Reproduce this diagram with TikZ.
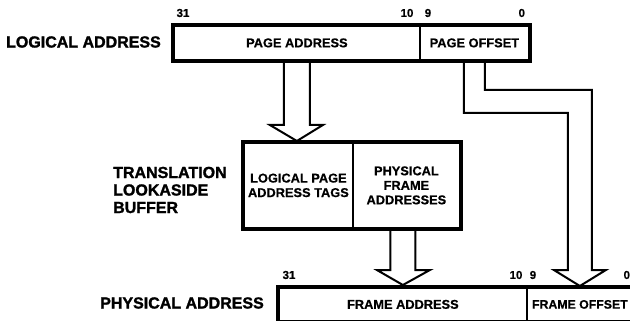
\documentclass[tikz,border=0pt]{standalone}
\usepackage{fontspec}
\setmainfont{Liberation Sans}
\newfontfamily\heavyfont[BoldFeatures={FakeBold=1.6}]{Liberation Sans}
\newfontfamily\midfont[BoldFeatures={FakeBold=0.6}]{Liberation Sans}
\usetikzlibrary{calc}
\begin{document}
\begin{tikzpicture}[x=1pt,y=-1pt,
  field/.style={draw, line width=1.8pt, minimum height=34pt, inner sep=0pt, anchor=north west,
    font=\midfont\bfseries\fontsize{12.8}{14.5}\selectfont, align=center},
  biglabel/.style={font=\heavyfont\bfseries\fontsize{16}{17.5}\selectfont, inner sep=0pt},
  bitnum/.style={font=\midfont\bfseries\fontsize{11.5}{12}\selectfont, inner sep=0pt},
  outline/.style={line width=3.5pt, line join=miter},
  hollow/.style={line width=2pt, line join=miter}
]
\useasboundingbox (0,0) rectangle (630,321);

% logical address
\node[field, minimum width=246pt] (pa) at (173,25) {PAGE ADDRESS};
\node[field, minimum width=109pt] (po) at (419,25) {PAGE OFFSET};
\node[biglabel, anchor=east] (la) at (161,42) {LOGICAL ADDRESS};
\node[bitnum] (la31) at ($(pa.north west)+(10,-12)$) {31};
\node[bitnum] (la10) at ($(po.north west)+(-12,-12)$) {10};
\node[bitnum] (la9) at ($(po.north west)+(9,-12)$) {9};
\node[bitnum] (la0) at ($(po.north east)+(-8,-12)$) {0};

% TLB
\node[field, minimum width=109pt, minimum height=85pt] (tags) at (243,142) {LOGICAL PAGE\\ADDRESS TAGS};
\node[field, minimum width=107pt, minimum height=85pt] (pfa) at (352,142) {PHYSICAL\\FRAME\\ADDRESSES};
\node[biglabel, anchor=west, align=left] (tlb) at (113,190) {TRANSLATION\\LOOKASIDE\\BUFFER};

% physical address
\node[field, minimum width=248pt, minimum height=33pt] (fa) at (278,287) {FRAME ADDRESS};
\node[field, minimum width=106pt, minimum height=33pt, font=\midfont\bfseries\fontsize{12.3}{14.5}\selectfont] (fo) at (526,287) {FRAME OFFSET};
\node[biglabel, anchor=east] (pha) at (264,303) {PHYSICAL ADDRESS};
\node[bitnum] (pa31) at ($(fa.north west)+(11,-12)$) {31};
\node[bitnum] (pa10) at ($(fo.north west)+(-10,-12)$) {10};
\node[bitnum] (pa9) at ($(fo.north west)+(7,-12)$) {9};
\node[bitnum] (pa0) at ($(fo.north east)+(-7,-12)$) {0};

% hollow arrows
\draw[hollow] let \p1=(pa.south), \p2=(tags.north) in
  (\x1-13pt,\y1) -- (\x1-13pt,\y2+17pt) -- (\x1-27pt,\y2+17pt) -- (\x1,\y2+1pt)
  -- (\x1+26pt,\y2+17pt) -- (\x1+13pt,\y2+17pt) -- (\x1+13pt,\y1);
\draw[hollow] let \p1=(pfa.south), \p2=(fa.north) in
  (\x2-12.5pt,\y1) -- (\x2-12.5pt,\y2+17pt) -- (\x2-26pt,\y2+17pt) -- (\x2,\y2+2pt)
  -- (\x2+27pt,\y2+17pt) -- (\x2+12.5pt,\y2+17pt) -- (\x2+12.5pt,\y1);
\draw[hollow] let \p1=(po.south), \p2=(fo.north) in
  (\x1-10.5pt,\y1) -- (\x1-10.5pt,\y1-52pt) -- (\x2-12pt,\y1-52pt) -- (\x2-12pt,\y2+17pt)
  -- (\x2-26pt,\y2+17pt) -- (\x2,\y2+1pt) -- (\x2+26pt,\y2+17pt) -- (\x2+12pt,\y2+17pt)
  -- (\x2+12pt,\y1-29pt) -- (\x1+10.5pt,\y1-29pt) -- (\x1+10.5pt,\y1);

% outlines
\draw[outline] (pa.north west) rectangle (po.south east);
\draw[outline] (tags.north west) rectangle (pfa.south east);
\draw[outline] (fa.north west) rectangle (fo.south east);
\end{tikzpicture}
\end{document}
